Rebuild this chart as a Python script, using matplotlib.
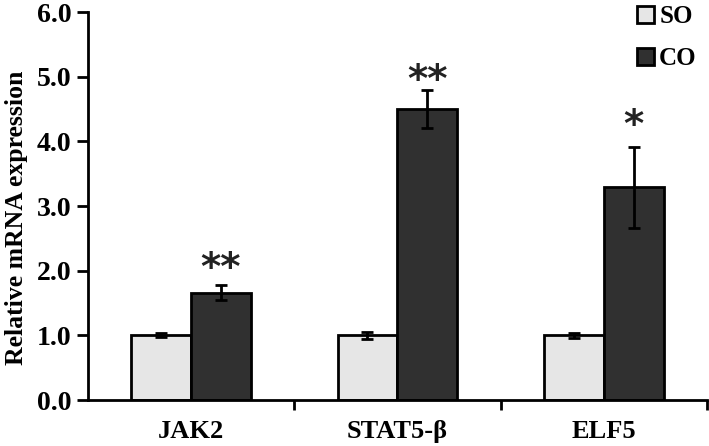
import matplotlib
matplotlib.use("Agg")
import matplotlib.pyplot as plt
import numpy as np
from matplotlib.patches import Patch

genes = ["JAK2", "STAT5-\u03b2", "ELF5"]
so_mean = [1.00, 1.00, 1.00]
so_err = [0.03, 0.06, 0.04]
co_mean = [1.66, 4.50, 3.29]
co_err = [0.12, 0.30, 0.63]
stars = ["**", "**", "*"]
star_y = [1.74, 4.64, 3.95]

plt.rcParams["font.family"] = ["Liberation Serif", "DejaVu Serif"]
plt.rcParams["font.weight"] = "bold"

fig = plt.figure(figsize=(7.09, 4.46), dpi=100)
ax = fig.add_axes([0.124, 0.103, 0.873, 0.870])

x = np.arange(len(genes))
w = 0.29
err_kw = dict(ecolor="black", elinewidth=2, capsize=4, capthick=2)
ax.bar(x - w / 2, so_mean, w, yerr=so_err, color="#e6e6e6", edgecolor="black",
       linewidth=2, error_kw=err_kw, label="SO")
ax.bar(x + w / 2, co_mean, w, yerr=co_err, color="#303030", edgecolor="black",
       linewidth=2, error_kw=err_kw, label="CO")

for xi, sy, s in zip(x, star_y, stars):
    ax.text(xi + w / 2, sy, s, ha="center", va="bottom", fontsize=28,
            family="DejaVu Sans", fontweight="bold", color="#222222")

ax.set_xlim(-0.5, 2.5)
ax.set_ylim(0, 6)
ax.set_yticks(np.arange(0, 6.01, 1.0))
ax.set_yticklabels([f"{v:.1f}" for v in np.arange(0, 6.01, 1.0)])
ax.set_xticks(x)
ax.set_xticklabels(genes)
ax.set_xticks([0.5, 1.5, 2.5], minor=True)
ax.tick_params(axis="x", which="major", length=0, labelsize=19, pad=14)
ax.tick_params(axis="x", which="minor", length=7, width=2, direction="out")
ax.tick_params(axis="y", length=8, width=2, labelsize=20, pad=4)
ax.set_ylabel("Relative mRNA expression", fontsize=18.5, fontweight="bold")
ax.yaxis.set_label_coords(-0.097, 0.47)

for side in ["top", "right"]:
    ax.spines[side].set_visible(False)
for side in ["left", "bottom"]:
    ax.spines[side].set_linewidth(2)

handles = [Patch(facecolor="#e6e6e6", edgecolor="black", linewidth=2, label="SO"),
           Patch(facecolor="#303030", edgecolor="black", linewidth=2, label="CO")]
ax.legend(handles=handles, loc="upper right", bbox_to_anchor=(1.02, 1.075), frameon=False,
          handlelength=0.7, handleheight=0.7, handletextpad=0.2, labelspacing=0.75,
          prop={"size": 18, "weight": "bold"})

fig.savefig("out.png", dpi=100)
